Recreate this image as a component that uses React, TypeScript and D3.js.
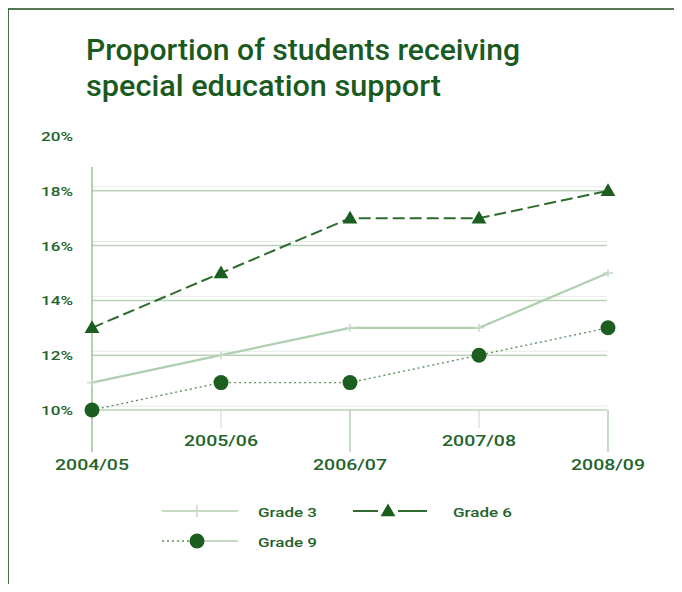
import React from "react";
import * as d3 from "d3";

const categories = ["2004/05", "2005/06", "2006/07", "2007/08", "2008/09"];
const grade3 = [11, 12, 13, 13, 15];
const grade6 = [13, 15, 17, 17, 18];
const grade9 = [10, 11, 11, 12, 13];
const yTicks = [10, 12, 14, 16, 18, 20];
const gridTicks = [10, 12, 14, 16, 18];
const titleLines = ["Proportion of students receiving", "special education support"];

const DARK = "#1b5e20";
const LABEL = "#23642a";
const LIGHT = "#b9d3b9";
const G3 = "#b0ceb0";

export default function App() {
  const W = 682, H = 592;
  const x = d3.scalePoint<string>().domain(categories).range([92, 608]);
  const y = d3.scaleLinear().domain([10, 20]).range([410, 136]);

  const line = d3
    .line<number>()
    .x((_, i) => x(categories[i]) as number)
    .y((d) => y(d));

  const font = "Roboto, 'Liberation Sans', Arial, sans-serif";
  const tri = d3.symbol().type(d3.symbolTriangle).size(95)();
  const titleLens = [434, 355];

  return (
    <div style={{ margin: -8 }}>
      <svg width={W} height={H} style={{ display: "block" }}>
        <rect x={0} y={0} width={W} height={H} fill="#fff" />
        {/* frame */}
        <path d={`M8,${H} L8,9 L${W},9`} fill="none" stroke="#1a4d1a" strokeWidth={1.6} />
        {/* title */}
        {titleLines.map((t, i) => (
          <text
            key={t}
            x={86}
            y={60 + i * 36}
            fill="#1a5a1e"
            fontFamily="Roboto, 'Liberation Sans', sans-serif"
            fontWeight={500}
            fontSize={30}
            textLength={titleLens[i]}
            lengthAdjust="spacingAndGlyphs"
          >
            {t}
          </text>
        ))}
        {/* gridlines */}
        {gridTicks.map((t) => (
          <g key={t}>
            <line x1={92} x2={607} y1={y(t)} y2={y(t)} stroke={LIGHT} strokeWidth={1.5} />
            <line x1={92} x2={607} y1={y(t) - 4} y2={y(t) - 4} stroke="#e2ede2" strokeWidth={1} />
          </g>
        ))}
        {/* y labels */}
        {yTicks.map((t) => (
          <text
            key={t}
            x={73}
            y={y(t) + 5}
            textAnchor="end"
            fill={LABEL}
            fontFamily={font}
            fontWeight={500}
            fontSize={13.5}
            textLength={32}
            lengthAdjust="spacingAndGlyphs"
          >
            {t}%
          </text>
        ))}
        {/* y axis line */}
        <line x1={92} x2={92} y1={167} y2={452} stroke="#8fb48f" strokeWidth={1.3} />
        {/* x ticks */}
        {categories.map((c, i) => {
          const xx = x(c) as number;
          const low = i % 2 === 0;
          return (
            <g key={c}>
              {i > 0 && (
                <line
                  x1={xx}
                  x2={xx}
                  y1={410}
                  y2={low ? 452 : 428}
                  stroke={low ? "#a9c7a9" : "#d3e3d3"}
                  strokeWidth={1.3}
                />
              )}
              <text
                x={xx}
                y={low ? 470 : 446}
                textAnchor="middle"
                fill={LABEL}
                fontFamily={font}
                fontWeight={500}
                fontSize={14}
                textLength={74}
                lengthAdjust="spacingAndGlyphs"
              >
                {c}
              </text>
            </g>
          );
        })}
        {/* Grade 3 */}
        <path d={line(grade3) || ""} fill="none" stroke={G3} strokeWidth={2.2} />
        {grade3.map((v, i) => {
          const xx = x(categories[i]) as number;
          const yy = y(v);
          return (
            <g key={i} stroke="#c5dac5" strokeWidth={1.5}>
              <line x1={xx - 5} x2={xx + 5} y1={yy} y2={yy} />
              <line x1={xx} x2={xx} y1={yy - 4} y2={yy + 4} />
            </g>
          );
        })}
        {/* Grade 9 */}
        <path
          d={line(grade9) || ""}
          fill="none"
          stroke="#5f8f5f"
          strokeWidth={1.4}
          strokeDasharray="2,3"
        />
        {grade9.map((v, i) => (
          <circle key={i} cx={x(categories[i]) as number} cy={y(v)} r={7.5} fill={DARK} />
        ))}
        {/* Grade 6 */}
        <path
          d={line(grade6) || ""}
          fill="none"
          stroke="#2e6b2e"
          strokeWidth={2}
          strokeDasharray="12,5"
        />
        {grade6.map((v, i) => (
          <path
            key={i}
            d={tri || ""}
            transform={`translate(${x(categories[i])},${y(v) + 1})`}
            fill={DARK}
          />
        ))}
        {/* legend */}
        <g>
          <line x1={162} x2={238} y1={511} y2={511} stroke={G3} strokeWidth={1.5} />
          <g stroke="#c5dac5" strokeWidth={1.5}>
            <line x1={192} x2={202} y1={511} y2={511} />
            <line x1={197} x2={197} y1={505} y2={517} />
          </g>
          <text x={258} y={517} fill={LABEL} fontFamily={font} fontWeight={500} fontSize={13.5} textLength={59} lengthAdjust="spacingAndGlyphs">
            Grade 3
          </text>

          <line x1={353} x2={378} y1={511} y2={511} stroke="#2e6b2e" strokeWidth={2} />
          <line x1={398} x2={427} y1={511} y2={511} stroke="#2e6b2e" strokeWidth={2} />
          <path d={tri || ""} transform="translate(388,512)" fill={DARK} />
          <text x={453} y={517} fill={LABEL} fontFamily={font} fontWeight={500} fontSize={13.5} textLength={59} lengthAdjust="spacingAndGlyphs">
            Grade 6
          </text>

          <line x1={162} x2={190} y1={541} y2={541} stroke="#5f8f5f" strokeWidth={1.4} strokeDasharray="2,3" />
          <line x1={204} x2={238} y1={541} y2={541} stroke={G3} strokeWidth={1.4} />
          <circle cx={197} cy={541} r={7.5} fill={DARK} />
          <text x={258} y={547} fill={LABEL} fontFamily={font} fontWeight={500} fontSize={13.5} textLength={59} lengthAdjust="spacingAndGlyphs">
            Grade 9
          </text>
        </g>
      </svg>
    </div>
  );
}
